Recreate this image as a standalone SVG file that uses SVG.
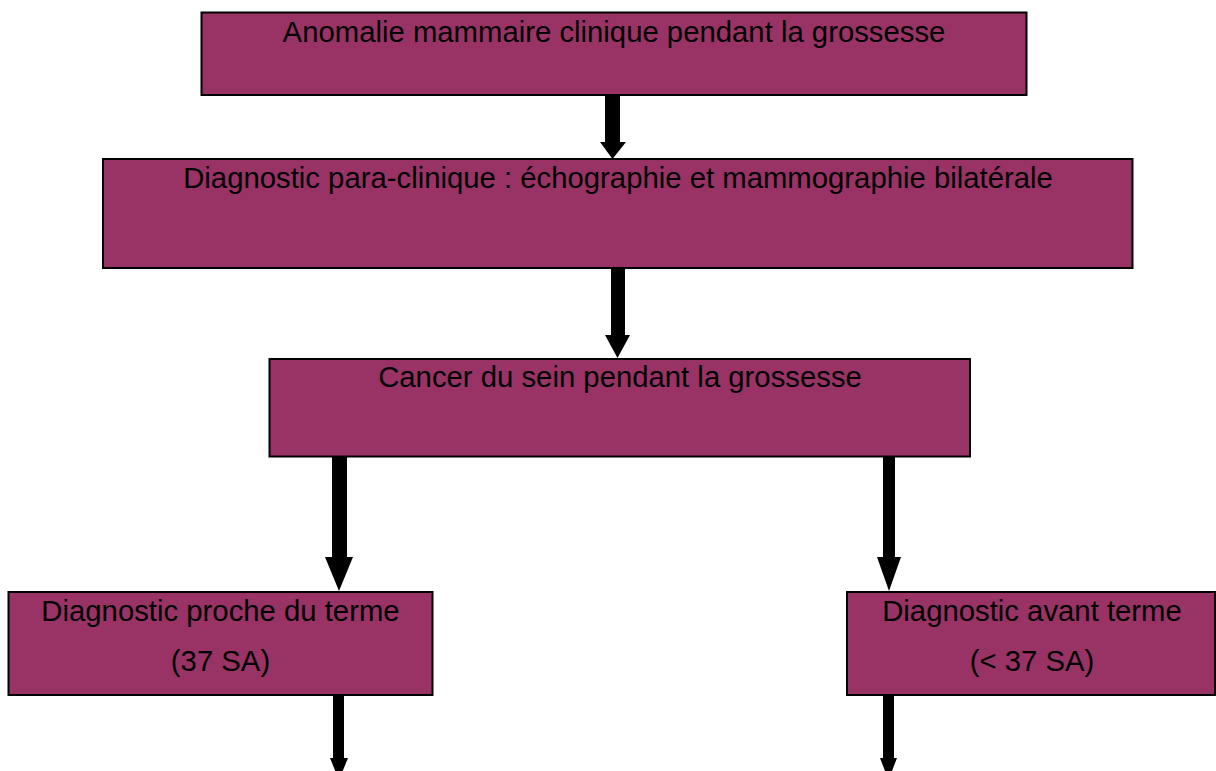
<svg xmlns="http://www.w3.org/2000/svg" width="1216" height="771" viewBox="0 0 1216 771">
<style>
.box{fill:#993366;stroke:#000;stroke-width:2}
.t{font-family:"Liberation Sans",Arial,sans-serif;font-size:29.3px;fill:#000;text-anchor:middle}
.arr{fill:#000}
</style>
<rect width="1216" height="771" fill="#fff"/>
<g id="connectors">
<polygon class="arr" points="605,95 620,95 620,142 626,142 612.5,159 600,142 605,142"/>
<polygon class="arr" points="611,268 625,268 625,335 630,335 617.5,358 605,335 611,335"/>
<polygon class="arr" points="332,457 347,457 347,557 353,557 339,591 325,557 332,557"/>
<polygon class="arr" points="883,457 895,457 895,557 901,557 889,591 877,557 883,557"/>
<polygon class="arr" points="333,695 344,695 344,758 348,758 339,780 330,758 333,758"/>
<polygon class="arr" points="883,695 894,695 894,758 897,758 888.5,780 880,758 883,758"/>
</g>
<g id="n1">
<rect class="box" x="201.5" y="12.5" width="825" height="82.5"/>
<text class="t" x="614" y="42">Anomalie mammaire clinique pendant la grossesse</text>
</g>
<g id="n2">
<rect class="box" x="103" y="159" width="1029.5" height="109"/>
<text class="t" x="618" y="188">Diagnostic para-clinique : échographie et mammographie bilatérale</text>
</g>
<g id="n3">
<rect class="box" x="269.5" y="359" width="700.5" height="97.5"/>
<text class="t" x="620" y="387">Cancer du sein pendant la grossesse</text>
</g>
<g id="n4">
<rect class="box" x="8.5" y="592" width="424" height="103"/>
<text class="t" x="220.5" y="621">Diagnostic proche du terme</text>
<text class="t" x="220.5" y="671">(37 SA)</text>
</g>
<g id="n5">
<rect class="box" x="847" y="592" width="368" height="103"/>
<text class="t" x="1032" y="621">Diagnostic avant terme</text>
<text class="t" x="1032" y="671">(&lt; 37 SA)</text>
</g>
</svg>
